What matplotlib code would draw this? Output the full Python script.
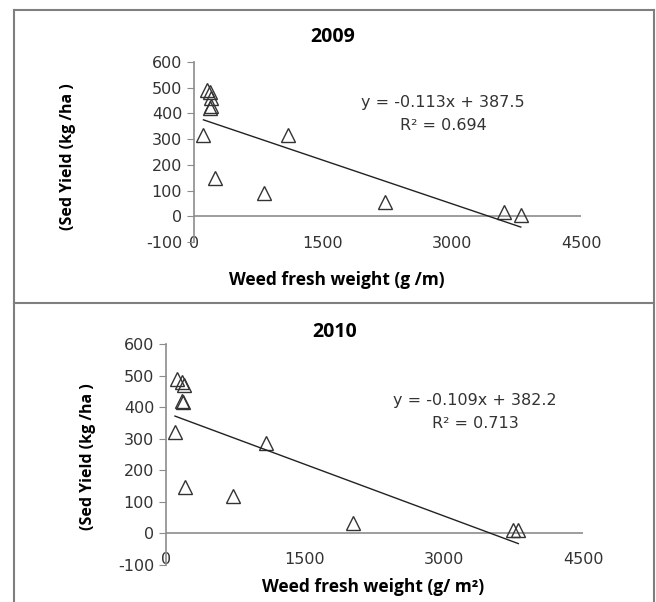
import numpy as np
import matplotlib
matplotlib.use("Agg")
import matplotlib.pyplot as plt
from matplotlib.lines import Line2D

plt.rcParams["axes.unicode_minus"] = False

# weed fresh weight vs seed yield
x_2009 = [150, 190, 200, 200, 190, 110, 240, 815, 1095, 2220, 3605, 3800]
y_2009 = [490, 483, 460, 430, 420, 315, 148, 90, 315, 55, 16, 5]
x_2010 = [115, 170, 190, 170, 180, 97, 205, 726, 1076, 2015, 3748, 3802]
y_2010 = [490, 480, 470, 420, 415, 321, 147, 119, 287, 34, 10, 10]

# trend line coefficients as printed on the chart
fit_2009 = (-0.113, 387.5, 0.694)
fit_2010 = (-0.109, 382.2, 0.713)

x_ticks = [0, 1500, 3000, 4500]
y_ticks = [-100, 0, 100, 200, 300, 400, 500, 600]

W, H = 656, 602
fig = plt.figure(figsize=(W / 100, H / 100), dpi=100)


def fx(px):
    return px / W


def fy(py):
    return 1 - py / H


# panel frames
frame = "#7f7f7f"
for xs, ys in [([14, 654], [10, 10]), ([14, 654], [303, 303]),
               ([14, 14], [10, 602]), ([654, 654], [10, 602])]:
    fig.add_artist(Line2D([fx(v) for v in xs], [fy(v) for v in ys],
                          color=frame, lw=1.5))


def panel(rect, x, y, fit, title, xlabel, xpad, title_pos, xlab_pos, ylab_pos, eq_pos):
    ax = fig.add_axes([fx(rect[0]), fy(rect[3]), fx(rect[2] - rect[0]),
                       (rect[3] - rect[1]) / H])
    ax.plot(x, y, linestyle="none", marker="^", markersize=10,
            markerfacecolor="none", markeredgecolor="#333333", markeredgewidth=1)
    slope, icpt, r2 = fit
    xs = np.array([min(x), max(x)])
    ax.plot(xs, slope * xs + icpt, color="#222222", lw=1)
    ax.axhline(0, color="#8c8c8c", lw=1.2, zorder=0)
    ax.set_xlim(0, 4500)
    ax.set_ylim(-100, 600)
    ax.set_xticks(x_ticks)
    ax.set_yticks(y_ticks)
    for s in ["top", "right", "bottom"]:
        ax.spines[s].set_visible(False)
    ax.spines["left"].set_color("#8c8c8c")
    ax.spines["left"].set_linewidth(1.2)
    ax.tick_params(axis="x", length=0, pad=xpad, labelsize=11.5, labelcolor="#333333")
    ax.tick_params(axis="y", length=5, color="#8c8c8c", labelsize=11.5,
                   labelcolor="#333333")
    ax.patch.set_alpha(0)

    fig.text(fx(title_pos[0]), fy(title_pos[1]), title, ha="center", va="center",
             fontsize=14, fontweight="bold", family="Open Sans")
    fig.text(fx(xlab_pos[0]), fy(xlab_pos[1]), xlabel, ha="center", va="center",
             fontsize=12.5, fontweight="bold", family="Open Sans")
    fig.text(fx(ylab_pos[0]), fy(ylab_pos[1]), "(Sed Yield (kg /ha )",
             ha="center", va="center", rotation=90, fontsize=11.5,
             fontweight="bold", family="Open Sans")
    fig.text(fx(eq_pos[0]), fy(eq_pos[1]), f"y = {slope}x + {icpt}",
             ha="center", va="center", fontsize=11.5, color="#333333")
    fig.text(fx(eq_pos[0]), fy(eq_pos[1] + 23), f"R\u00b2 = {r2}",
             ha="center", va="center", fontsize=11.5, color="#333333")
    return ax


panel((194, 62, 581, 242), x_2009, y_2009, fit_2009, "2009",
      "Weed fresh weight (g /m)", -4, (333, 37), (337, 280), (68, 157), (443, 103))
panel((166, 344, 583, 565), x_2010, y_2010, fit_2010, "2010",
      "Weed fresh weight (g/ m\u00b2)", -9, (335, 332), (373, 587), (88, 457), (475, 400))

fig.savefig("out.png", dpi=100)
